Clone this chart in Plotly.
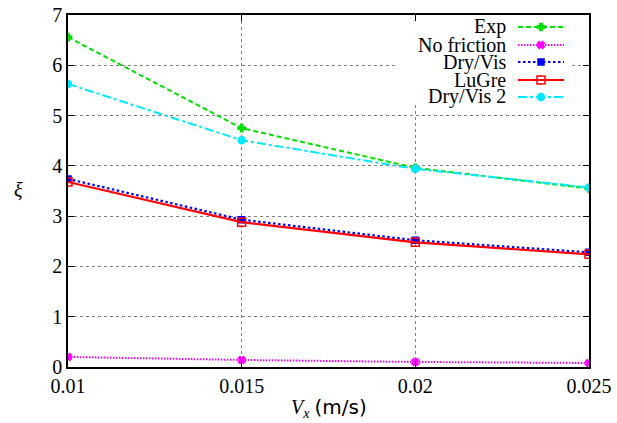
import plotly.graph_objects as go

# ---- data ----
vx = [0.010, 0.015, 0.020, 0.025]
exp_vals = [6.56, 4.75, 3.96, 3.55]
nofric_vals = [0.20, 0.14, 0.10, 0.08]
dryvis_vals = [3.74, 2.93, 2.52, 2.28]
lugre_vals = [3.68, 2.88, 2.48, 2.24]
dryvis2_vals = [5.63, 4.51, 3.94, 3.57]

names = ["Exp", "No friction", "Dry/Vis", "LuGre", "Dry/Vis 2"]
series = [exp_vals, nofric_vals, dryvis_vals, lugre_vals, dryvis2_vals]
colors = ["#00e000", "#ff00ff", "#0000ff", "#ff0000", "#00e8ff"]
dashes = ["5px,3px", "1.5px,1.5px", "2.5px,2.5px", "solid", "9px,3px,3px,3px"]
widths = [2, 2, 2.2, 2.2, 2]
symbols = ["cross", "x", "square", "square-open", "circle"]
msizes = [6, 6, 6, 8, 7]

W, H = 617, 423
L, R, T, B = 68, 28, 15, 56
PW, PH = W - L - R, H - T - B

def px_x(p):
    return (p - L) / PW

def px_y(p):
    return (H - B - p) / PH

FONT = "Liberation Serif"

fig = go.Figure()
for nm, vals, c, d, w, s, ms in zip(names, series, colors, dashes, widths, symbols, msizes):
    fig.add_trace(go.Scatter(
        x=vx, y=vals, mode="lines+markers", name=nm, showlegend=False,
        line=dict(color=c, dash=d, width=w),
        marker=dict(symbol=s, size=ms, color=c, line=dict(color=c, width=1.5)),
        xaxis="x", yaxis="y"))

# white legend box (overlay axis in 0..1 units, drawn above the grid)
bx0, bx1, by0, by1 = px_x(398), px_x(572), px_y(105), px_y(19)
fig.add_trace(go.Scatter(
    x=[bx0, bx1, bx1, bx0, bx0], y=[by0, by0, by1, by1, by0],
    mode="lines", fill="toself", fillcolor="white", line=dict(width=0, color="white"),
    showlegend=False, hoverinfo="skip", xaxis="x2", yaxis="y2"))

# custom legend (text left, sample right)
row_y = [27, 45, 62, 80, 97]
for nm, c, d, w, s, ms, ry in zip(names, colors, dashes, widths, symbols, msizes, row_y):
    yy = px_y(ry)
    fig.add_trace(go.Scatter(
        x=[px_x(518), px_x(564)], y=[yy, yy], mode="lines", showlegend=False,
        line=dict(color=c, dash=d, width=w), xaxis="x2", yaxis="y2", hoverinfo="skip"))
    fig.add_trace(go.Scatter(
        x=[px_x(541)], y=[yy], mode="markers", showlegend=False,
        marker=dict(symbol=s, size=ms, color=c, line=dict(color=c, width=1.5)),
        xaxis="x2", yaxis="y2", hoverinfo="skip"))
    fig.add_annotation(x=px_x(508), y=yy, xref="paper", yref="paper", text=nm,
                       showarrow=False, xanchor="right", yanchor="middle",
                       font=dict(family=FONT, size=20, color="black"))

axis_common = dict(
    showline=True, linecolor="black", linewidth=1.5, mirror="ticks",
    ticks="inside", ticklen=6, tickwidth=1, tickcolor="black",
    showgrid=True, gridcolor="#808080", gridwidth=1, griddash="dot",
    zeroline=False, automargin=False,
    tickfont=dict(family=FONT, size=20, color="black"),
)

fig.update_layout(
    width=W, height=H, margin=dict(l=L, r=R, t=T, b=B, autoexpand=False),
    plot_bgcolor="white", paper_bgcolor="white",
    xaxis=dict(range=[0.01, 0.025], tickvals=[0.01, 0.015, 0.02, 0.025],
               ticktext=["0.01", "0.015", "0.02", "0.025"], **axis_common),
    yaxis=dict(range=[0, 7], tickvals=list(range(0, 8)), **axis_common),
    xaxis2=dict(range=[0, 1], overlaying="x", visible=False, fixedrange=True, automargin=False),
    yaxis2=dict(range=[0, 1], overlaying="y", visible=False, fixedrange=True, automargin=False),
    showlegend=False,
)

fig.add_annotation(x=0.5, y=px_y(408), xref="paper", yref="paper",
                   text="<i>V<sub>x</sub></i> <span style='font-family:DejaVu Sans'>(m/s)</span>",
                   showarrow=False, xanchor="center", yanchor="middle",
                   font=dict(family=FONT, size=20, color="black"))
fig.add_annotation(x=px_x(18), y=px_y(190), xref="paper", yref="paper",
                   text="<i>ξ</i>", showarrow=False, xanchor="center", yanchor="middle",
                   font=dict(family=FONT, size=20, color="black"))

fig.write_html("out.html")
